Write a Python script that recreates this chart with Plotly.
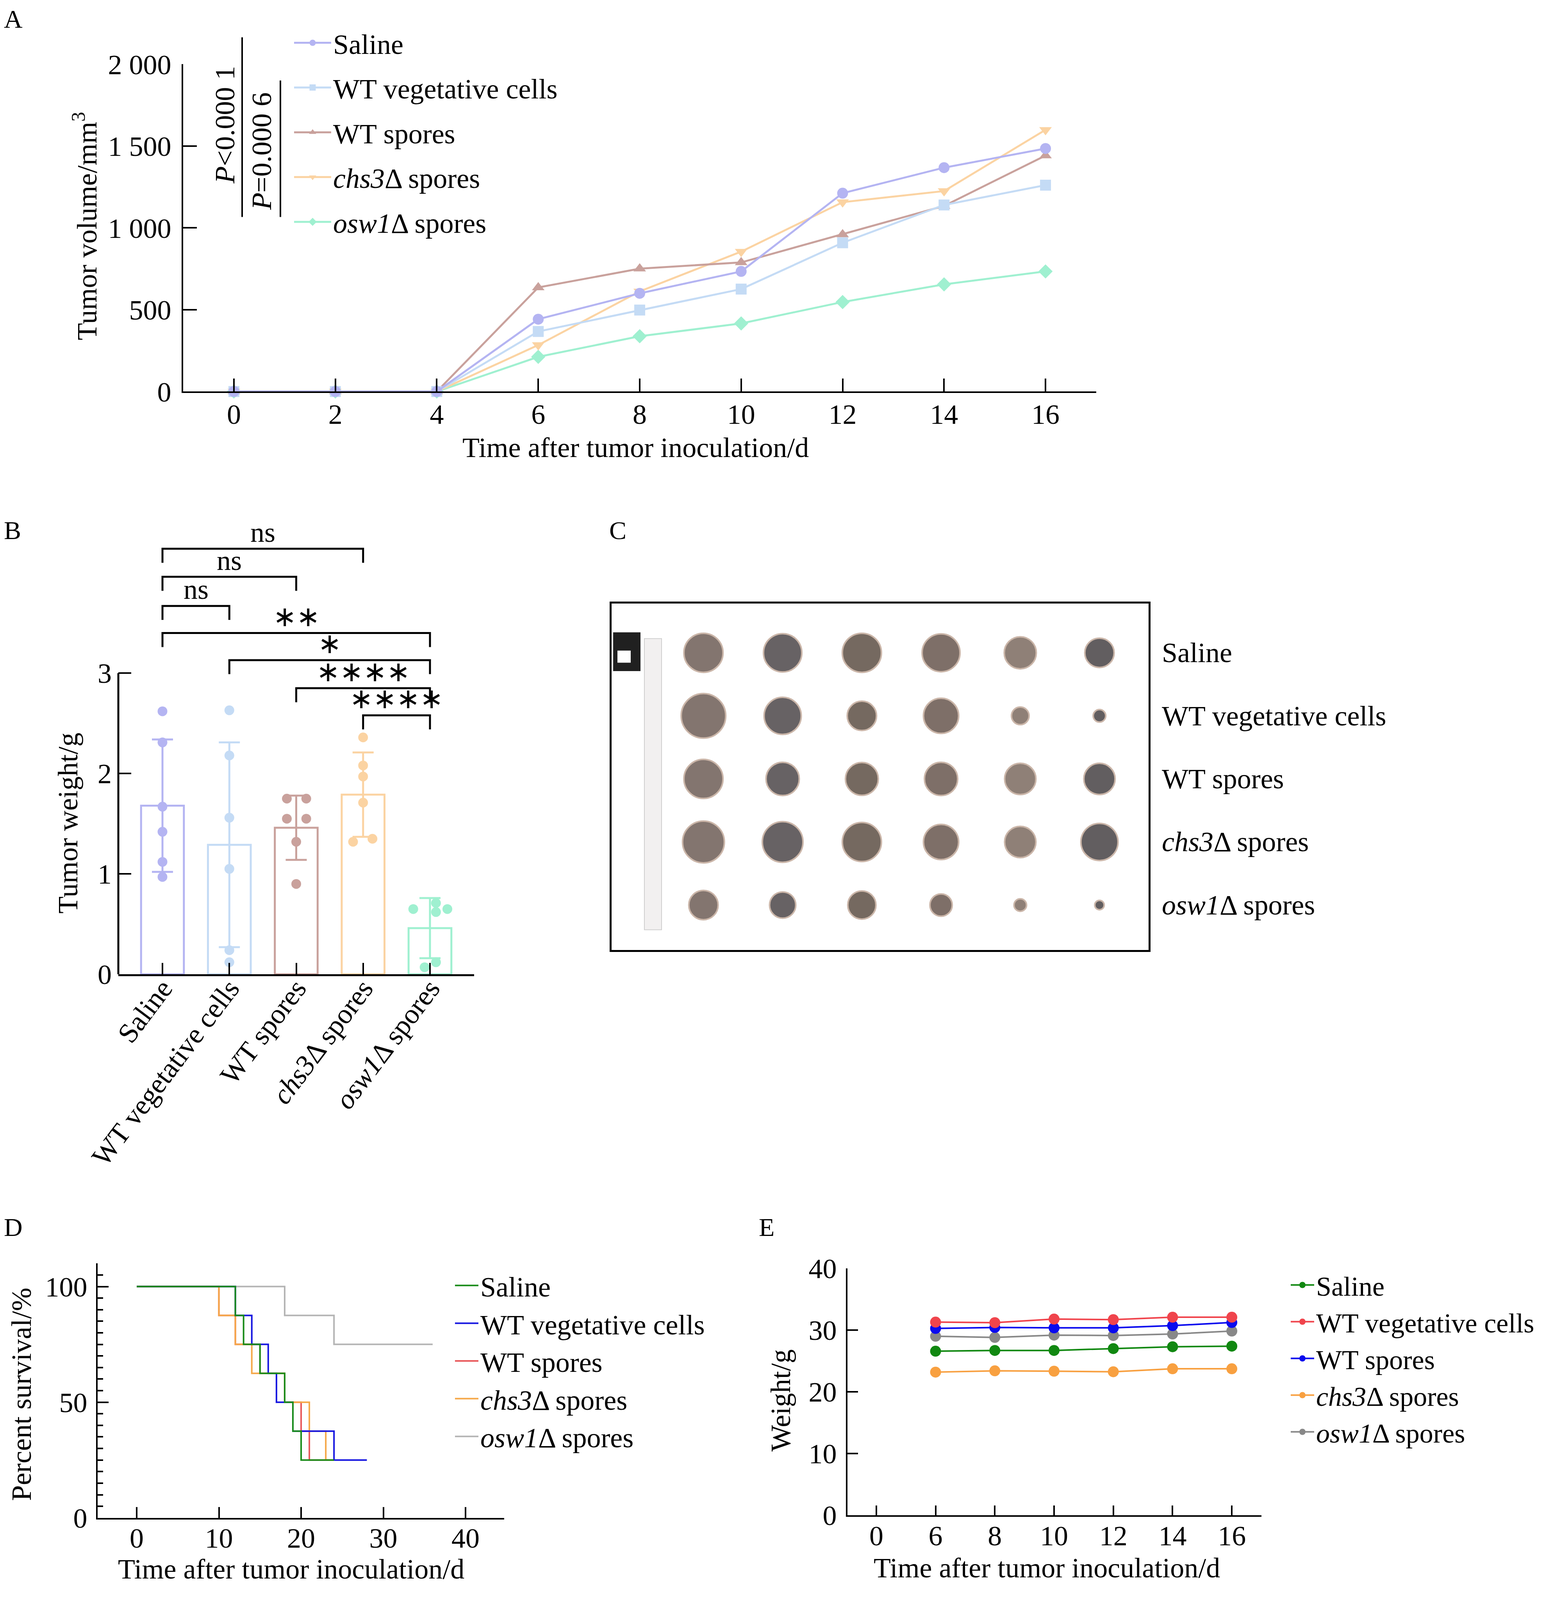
import plotly.graph_objects as go

# Reference canvas 3974 x 4350; the photographed viewport is shorter (about 4094 px),
# so the layout measured on the reference is mapped proportionally into it.
W, H_REF = 3974, 4350
H_VIEW = 4075
KY = H_VIEW / H_REF
OFF = 8
FW, FH = W - 2 * OFF, H_VIEW - 2 * OFF
FONT = "Liberation Serif"
FS = 72


def px_x(p):
    return (p - OFF) / FW


def px_y(p):
    return 1 - (p * KY - OFF) / FH


def xdom(a, b):
    return [px_x(a), px_x(b)]


def ydom(top, bottom):
    return [px_y(bottom), px_y(top)]


# ---------------- data ----------------
group_names = ["Saline", "WT vegetative cells", "WT spores",
               "<i>chs3</i>Δ spores", "<i>osw1</i>Δ spores"]

# Panel A: tumour volume (mm3)
days_a = [0, 2, 4, 6, 8, 10, 12, 14, 16]
vol_saline = [0, 0, 0, 442, 600, 734, 1212, 1368, 1485]
vol_wtveg = [0, 0, 0, 367, 498, 626, 909, 1140, 1261]
vol_wtspores = [0, 0, 0, 636, 751, 789, 960, 1134, 1442]
vol_chs3 = [0, 0, 0, 284, 612, 855, 1157, 1225, 1599]
vol_osw1 = [0, 0, 0, 212, 338, 416, 547, 655, 734]
a_ticks = [0, 500, 1000, 1500, 2000]
a_ticktext = ["0", "500", "1 000", "1 500", "2 000"]
colors_a = ["#b4b4f2", "#c4dbf5", "#c9a19c", "#fbd3a2", "#9ff0d0"]
symbols_a = ["circle", "square", "triangle-up", "triangle-down", "diamond"]

# Panel B: tumour weight (g)
weight_mean = [1.68, 1.29, 1.46, 1.79, 0.46]
weight_sd = [0.66, 1.02, 0.32, 0.42, 0.30]
pts_saline = [2.62, 2.31, 1.67, 1.42, 1.12, 0.97]
pts_wtveg = [2.63, 2.18, 1.56, 1.05, 0.24, 0.12]
pts_wtspores = [1.75, 1.75, 1.55, 1.55, 1.32, 0.90]
pts_chs3 = [2.36, 2.08, 1.97, 1.71, 1.32, 1.35]
pts_osw1 = [0.65, 0.65, 0.71, 0.62, 0.12, 0.07]
jit_saline = [0, 0, 0, 0, 0, 0]
jit_wtveg = [0, 0, 0, 0, 0, 0]
jit_wtspores = [-0.14, 0.15, -0.14, 0.15, 0, 0]
jit_chs3 = [0, 0, 0, 0, -0.15, 0.14]
jit_osw1 = [-0.25, 0.26, 0.09, 0.09, 0.09, -0.08]
bracket_from = [0, 0, 0, 0, 1, 2, 3]
bracket_to = [1, 2, 3, 4, 4, 4, 4]
bracket_level = [3.67, 3.96, 4.24, 3.40, 3.13, 2.85, 2.58]
bracket_text = ["ns", "ns", "ns", "∗∗", "∗", "∗∗∗∗", "∗∗∗∗"]

# Panel C: tumour photo (apparent tumour sizes, px, rows = groups, cols = mice)
tumor_rows = [
    [100, 98, 100, 97, 82, 75],
    [114, 95, 75, 90, 45, 32],
    [100, 85, 84, 85, 80, 80],
    [107, 104, 100, 90, 80, 95],
    [75, 67, 72, 57, 32, 24],
]
tumor_colors = ["#7d6e68", "#5f5a5c", "#6e6258", "#786860", "#8a7a70", "#5a5658"]

# Panel D: survival (%)
surv_t_saline = [0, 12, 13, 15, 18, 19, 20, 24]
surv_saline = [100, 87.5, 75, 62.5, 50, 37.5, 25, 25]
surv_t_wtveg = [0, 12, 14, 16, 17, 19, 24, 28]
surv_wtveg = [100, 87.5, 75, 62.5, 50, 37.5, 25, 25]
surv_t_wtspores = [0, 10, 12, 15, 18, 20, 21, 24]
surv_wtspores = [100, 87.5, 75, 62.5, 50, 37.5, 25, 25]
surv_t_chs3 = [0, 10, 12, 14, 18, 21, 23, 24]
surv_chs3 = [100, 87.5, 75, 62.5, 50, 37.5, 25, 25]
surv_t_osw1 = [0, 18, 24, 36]
surv_osw1 = [100, 87.5, 75, 75]
colors_d = ["#1a8c1a", "#1515e0", "#e8585a", "#f5a849", "#b4b4b4"]

# Panel E: body weight (g)
days_e_axis = ["0", "6", "8", "10", "12", "14", "16"]
days_e = ["6", "8", "10", "12", "14", "16"]
bw_saline = [26.58, 26.70, 26.70, 27.00, 27.30, 27.39]
bw_wtveg = [31.29, 31.20, 31.78, 31.69, 32.08, 32.08]
bw_wtspores = [30.26, 30.42, 30.36, 30.36, 30.72, 31.23]
bw_chs3 = [23.19, 23.40, 23.34, 23.25, 23.73, 23.73]
bw_osw1 = [29.00, 28.81, 29.18, 29.12, 29.36, 29.84]
colors_e = ["#118811", "#f0444c", "#0a0aee", "#f8a040", "#888888"]

# ---------------- figure ----------------
fig = go.Figure()

# Panel A
vols = [vol_saline, vol_wtveg, vol_wtspores, vol_chs3, vol_osw1]
for i in reversed(range(5)):
    fig.add_trace(go.Scatter(
        x=days_a, y=vols[i], mode="lines+markers", name=group_names[i],
        line=dict(color=colors_a[i], width=5),
        marker=dict(symbol=symbols_a[i], size=28, color=colors_a[i]),
        xaxis="x", yaxis="y", legend="legend", legendgroup="a%d" % i,
        legendrank=i + 1, cliponaxis=False))

# Panel B
pts = [pts_saline, pts_wtveg, pts_wtspores, pts_chs3, pts_osw1]
jits = [jit_saline, jit_wtveg, jit_wtspores, jit_chs3, jit_osw1]
for i in range(5):
    fig.add_trace(go.Bar(
        x=[i], y=[weight_mean[i]], width=0.64, showlegend=False,
        marker=dict(color="rgba(255,255,255,0)", line=dict(color=colors_a[i], width=5)),
        error_y=dict(type="data", array=[weight_sd[i]], color=colors_a[i],
                     thickness=5, width=27),
        xaxis="x2", yaxis="y2"))
for i in range(5):
    fig.add_trace(go.Scatter(
        x=[i + j for j in jits[i]], y=pts[i], mode="markers", showlegend=False,
        marker=dict(size=25, color=colors_a[i]), xaxis="x2", yaxis="y2"))
drop = 0.14
for a, b, h in zip(bracket_from, bracket_to, bracket_level):
    fig.add_trace(go.Scatter(
        x=[a, a, b, b], y=[h - drop, h, h, h - drop], mode="lines",
        line=dict(color="black", width=5), showlegend=False,
        xaxis="x2", yaxis="y2", hoverinfo="skip"))

# Panel C
for r, row in enumerate(tumor_rows):
    fig.add_trace(go.Scatter(
        x=list(range(len(row))), y=[r] * len(row), mode="markers", showlegend=False,
        marker=dict(size=row, color=tumor_colors,
                    line=dict(color="#c9b3a5", width=4), opacity=0.95),
        xaxis="x3", yaxis="y3", hoverinfo="skip"))

# Panel D (draw order: grey, red, orange, blue, green on top)
surv_t = [surv_t_saline, surv_t_wtveg, surv_t_wtspores, surv_t_chs3, surv_t_osw1]
surv = [surv_saline, surv_wtveg, surv_wtspores, surv_chs3, surv_osw1]
for i in [4, 2, 3, 1, 0]:
    fig.add_trace(go.Scatter(
        x=surv_t[i], y=surv[i], mode="lines", line_shape="hv", name=group_names[i],
        line=dict(color=colors_d[i], width=4), xaxis="x4", yaxis="y4",
        legend="legend2", legendrank=i + 1))

# Panel E
bws = [bw_saline, bw_wtveg, bw_wtspores, bw_chs3, bw_osw1]
for i in [4, 3, 0, 2, 1]:
    fig.add_trace(go.Scatter(
        x=days_e, y=bws[i], mode="lines+markers", name=group_names[i],
        line=dict(color=colors_e[i], width=4),
        marker=dict(size=28, color=colors_e[i]), xaxis="x5", yaxis="y5",
        legend="legend3", legendrank=i + 1))

tickfont = dict(family=FONT, size=FS, color="black")
axis_common = dict(showgrid=False, zeroline=False, showline=True, linecolor="black",
                   linewidth=4, tickcolor="black", tickwidth=4, tickfont=tickfont,
                   ticks="inside", automargin=False)

layout = dict(
    width=FW, height=FH, autosize=False,
    margin=dict(l=0, r=0, t=0, b=0, pad=0, autoexpand=False),
    paper_bgcolor="white", plot_bgcolor="rgba(0,0,0,0)",
    font=dict(family=FONT, size=FS, color="black"),
    barmode="overlay",
    # Panel A
    xaxis=dict(axis_common, domain=xdom(469, 2807), anchor="y", range=[-1, 17],
               tickvals=days_a, ticklen=33, ticklabelstandoff=-8),
    yaxis=dict(axis_common, domain=ydom(175.5, 1070), anchor="x", range=[0, 2000],
               tickvals=a_ticks, ticktext=a_ticktext, ticklen=35,
               ticklabelstandoff=12),
    # Panel B
    xaxis2=dict(axis_common, domain=xdom(303, 1214), anchor="y2", range=[-0.66, 4.66],
                tickvals=list(range(5)), ticktext=group_names, tickangle=-53,
                ticklen=29, linewidth=5, ticklabelstandoff=-40),
    yaxis2=dict(axis_common, domain=ydom(1400.7, 2662.5), anchor="x2", range=[0, 4.6],
                tickvals=[0, 1, 2, 3], ticklen=33, showline=False,
                ticklabelstandoff=16),
    # Panel C
    xaxis3=dict(domain=xdom(1566, 2941), anchor="y3", range=[-1.16, 5.62],
                showgrid=False, zeroline=False, showticklabels=False, ticks="",
                showline=True, mirror=True, linecolor="black", linewidth=5),
    yaxis3=dict(domain=ydom(1649.5, 2595.6), anchor="x3", range=[4.71, -0.78],
                showgrid=False, zeroline=False, showticklabels=False, ticks="",
                showline=True, mirror=True, linecolor="black", linewidth=5),
    # Panel D
    xaxis4=dict(axis_common, domain=xdom(250, 1291), anchor="y4", range=[-4.75, 44.7],
                tickvals=[0, 10, 20, 30, 40], ticklen=28, ticklabelstandoff=-14),
    yaxis4=dict(axis_common, domain=ydom(3452.6, 4148), anchor="x4", range=[0, 110],
                tickvals=[0, 50, 100], ticklen=28, ticklabelstandoff=8,
                minor=dict(tick0=0, dtick=5, ticks="inside", ticklen=14,
                           tickwidth=4, tickcolor="black")),
    # Panel E
    xaxis5=dict(axis_common, domain=xdom(2170, 3230), anchor="y5", type="category",
                categoryorder="array", categoryarray=days_e_axis,
                range=[-0.487, 6.5], ticklen=25, ticklabelstandoff=-14),
    yaxis5=dict(axis_common, domain=ydom(3466, 4141), anchor="x5", range=[0, 40],
                tickvals=[0, 10, 20, 30, 40], ticklen=27, ticklabelstandoff=9),
    legend=dict(x=px_x(748), y=px_y(60), xanchor="left", yanchor="top",
                font=dict(family=FONT, size=FS, color="black"),
                bgcolor="rgba(0,0,0,0)", itemwidth=95, tracegroupgap=18,
                traceorder="grouped"),
    legend2=dict(x=px_x(1160), y=px_y(3456), xanchor="left", yanchor="top",
                 font=dict(family=FONT, size=FS, color="black"),
                 bgcolor="rgba(0,0,0,0)", itemwidth=60, traceorder="normal"),
    legend3=dict(x=px_x(3300), y=px_y(3456), xanchor="left", yanchor="top",
                 font=dict(family=FONT, size=70, color="black"),
                 bgcolor="rgba(0,0,0,0)", itemwidth=60, traceorder="normal"),
)
fig.update_layout(**layout)

ann = []


def text_px(x, y, s, size=FS, angle=0, xanchor="center", yanchor="middle"):
    ann.append(dict(xref="paper", yref="paper", x=px_x(x), y=px_y(y), text=s,
                    showarrow=False, textangle=angle, xanchor=xanchor, yanchor=yanchor,
                    font=dict(family=FONT, size=size, color="black")))


# panel letters
for letter, (lx, ly) in zip("ABCDE", [(8, 52), (8, 1449), (1558, 1449), (8, 3353), (1941, 3353)]):
    text_px(lx, ly, letter, size=66, xanchor="left")

# axis titles
text_px(1627, 1223, "Time after tumor inoculation/d")
text_px(218, 618, "Tumor volume/mm<sup>3</sup>", angle=-90)
text_px(174, 2250, "Tumor weight/g", angle=-90)
text_px(55, 3810, "Percent survival/%", angle=-90)
text_px(745, 4288, "Time after tumor inoculation/d")
text_px(1999, 3827, "Weight/g", angle=-90)
text_px(2680, 4285, "Time after tumor inoculation/d")

# P values in panel A
text_px(576, 341, "<i>P</i>&lt;0.000 1", angle=-90)
text_px(670, 413, "<i>P</i>=0.000 6", angle=-90)

# bracket labels panel B
for a, b, h, t in zip(bracket_from, bracket_to, bracket_level, bracket_text):
    ann.append(dict(xref="x2", yref="y2", x=(a + b) / 2, y=h, text=t, showarrow=False,
                    xanchor="center", yanchor="bottom",
                    font=dict(family=FONT, size=FS, color="black")))

# photo row labels panel C
for r, name in enumerate(group_names):
    ann.append(dict(xref="paper", yref="y3", x=px_x(2973), y=r, text=name,
                    showarrow=False, xanchor="left", yanchor="middle",
                    font=dict(family=FONT, size=FS, color="black")))

shapes = [
    # P-value lines
    dict(type="line", xref="paper", yref="paper", x0=px_x(620), x1=px_x(620),
         y0=px_y(102), y1=px_y(593), line=dict(color="black", width=4)),
    dict(type="line", xref="paper", yref="paper", x0=px_x(718), x1=px_x(718),
         y0=px_y(220), y1=px_y(593), line=dict(color="black", width=4)),
    # panel B y-axis line 0..3
    dict(type="line", xref="x2 domain", yref="y2", x0=0, x1=0, y0=0, y1=3,
         line=dict(color="black", width=5)),
    # panel C card and ruler
    dict(type="rect", xref="paper", yref="paper", x0=px_x(1570), x1=px_x(1640),
         y0=px_y(1728), y1=px_y(1834), fillcolor="#202020", line=dict(width=0)),
    dict(type="rect", xref="paper", yref="paper", x0=px_x(1581), x1=px_x(1615),
         y0=px_y(1778), y1=px_y(1811), fillcolor="white", line=dict(width=0)),
    dict(type="rect", xref="paper", yref="paper", x0=px_x(1650), x1=px_x(1694),
         y0=px_y(1745), y1=px_y(2541), fillcolor="#f2f0f0",
         line=dict(color="#cfcfcf", width=2)),
]
fig.update_layout(annotations=ann, shapes=shapes)

fig.write_html("out.html")
